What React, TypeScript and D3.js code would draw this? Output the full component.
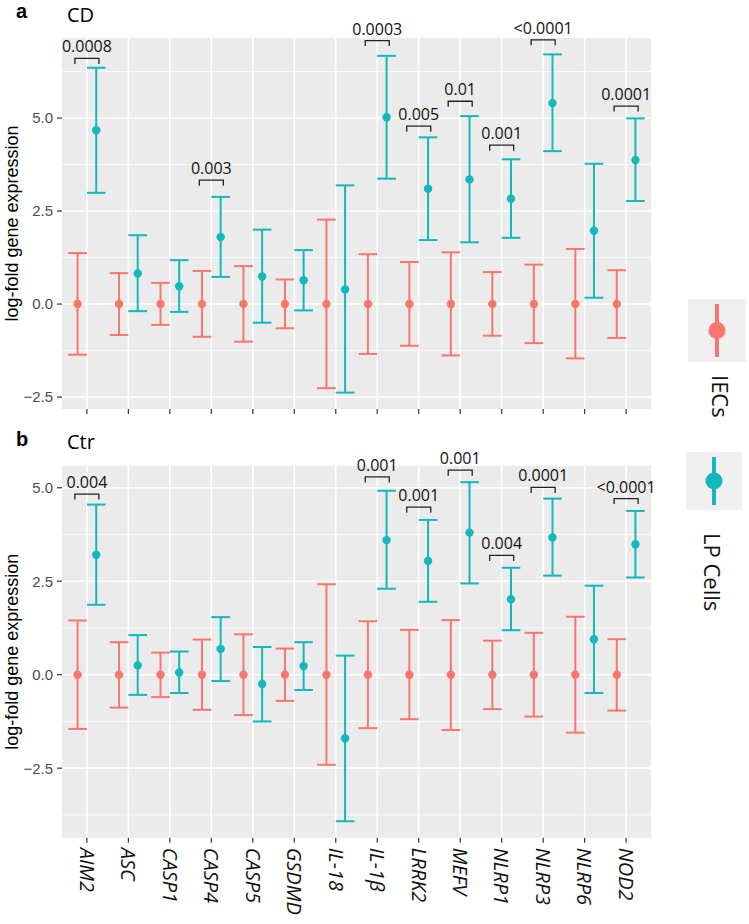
import { useEffect, useRef } from "react";
import * as d3 from "d3";

const GENES = [
  "AIM2", "ASC", "CASP1", "CASP4", "CASP5", "GSDMD", "IL-18",
  "IL-1β", "LRRK2", "MEFV", "NLRP1", "NLRP3", "NLRP6", "NOD2",
];

// panel a: CD
const CD_IEC_MEAN = [0, 0, 0, 0, 0, 0, 0, 0, 0, 0, 0, 0, 0, 0];
const CD_IEC_LO = [-1.36, -0.83, -0.56, -0.88, -1.01, -0.65, -2.26, -1.34, -1.12, -1.38, -0.85, -1.05, -1.46, -0.91];
const CD_IEC_HI = [1.37, 0.83, 0.57, 0.89, 1.02, 0.66, 2.27, 1.34, 1.13, 1.39, 0.86, 1.06, 1.48, 0.91];
const CD_LP_MEAN = [4.67, 0.82, 0.48, 1.8, 0.74, 0.64, 0.39, 5.02, 3.1, 3.35, 2.83, 5.4, 1.97, 3.87];
const CD_LP_LO = [2.99, -0.19, -0.21, 0.73, -0.5, -0.17, -2.38, 3.37, 1.72, 1.66, 1.78, 4.11, 0.17, 2.77];
const CD_LP_HI = [6.35, 1.85, 1.18, 2.88, 2.0, 1.45, 3.19, 6.67, 4.48, 5.05, 3.89, 6.71, 3.77, 4.99];
const CD_P = ["0.0008", null, null, "0.003", null, null, null, "0.0003", "0.005", "0.01", "0.001", "<0.0001", null, "0.0001"];
const CD_P_Y = [6.6, null, null, 3.33, null, null, null, 7.08, 4.78, 5.45, 4.27, 7.1, null, 5.32];

// panel b: Ctr
const CTR_IEC_MEAN = [0, 0, 0, 0, 0, 0, 0, 0, 0, 0, 0, 0, 0, 0];
const CTR_IEC_LO = [-1.45, -0.88, -0.6, -0.94, -1.08, -0.7, -2.41, -1.43, -1.19, -1.48, -0.92, -1.12, -1.55, -0.96];
const CTR_IEC_HI = [1.45, 0.87, 0.59, 0.94, 1.08, 0.7, 2.42, 1.43, 1.2, 1.46, 0.91, 1.12, 1.55, 0.95];
const CTR_LP_MEAN = [3.21, 0.25, 0.06, 0.69, -0.25, 0.23, -1.7, 3.6, 3.04, 3.8, 2.02, 3.67, 0.95, 3.49];
const CTR_LP_LO = [1.87, -0.54, -0.49, -0.17, -1.25, -0.41, -3.92, 2.3, 1.95, 2.44, 1.19, 2.65, -0.49, 2.6];
const CTR_LP_HI = [4.55, 1.06, 0.62, 1.54, 0.74, 0.87, 0.51, 4.92, 4.14, 5.15, 2.86, 4.71, 2.38, 4.38];
const CTR_P = ["0.004", null, null, null, null, null, null, "0.001", "0.001", "0.001", "0.004", "0.0001", null, "<0.0001"];
const CTR_P_Y = [4.83, null, null, null, null, null, null, 5.29, 4.48, 5.47, 3.19, 5.01, null, 4.71];

const Y_MAJOR = [-2.5, 0, 2.5, 5];
const Y_MINOR = [-3.75, -1.25, 1.25, 3.75, 6.25];

const GROUPS = ["IECs", "LP Cells"];
const COLORS = ["#F8766D", "#12B8BC"];

const SANS = "'Open Sans', 'DejaVu Sans', sans-serif";
const ARIAL = "'Liberation Sans', Arial, sans-serif";

export default function App() {
  const svgRef = useRef<SVGSVGElement>(null);

  useEffect(() => {
    if (!svgRef.current) return;
    const svg = d3.select(svgRef.current);
    svg.selectAll("*").remove();

    const left = 62;
    const right = 651;

    const x = d3.scalePoint<string>().domain(GENES).range([left, right]).padding(0.6);
    const step = x.step();
    const dodge = step * 0.225;
    const capHalf = step * 0.225;

    const panels = [
      {
        tag: "a", title: "CD", top: 38, bottom: 409, domain: [-2.82, 7.15],
        series: [
          { mean: CD_IEC_MEAN, lo: CD_IEC_LO, hi: CD_IEC_HI },
          { mean: CD_LP_MEAN, lo: CD_LP_LO, hi: CD_LP_HI },
        ],
        p: CD_P, pY: CD_P_Y, labels: false,
      },
      {
        tag: "b", title: "Ctr", top: 465.7, bottom: 837.7, domain: [-4.36, 5.59],
        series: [
          { mean: CTR_IEC_MEAN, lo: CTR_IEC_LO, hi: CTR_IEC_HI },
          { mean: CTR_LP_MEAN, lo: CTR_LP_LO, hi: CTR_LP_HI },
        ],
        p: CTR_P, pY: CTR_P_Y, labels: true,
      },
    ];

    panels.forEach((pn) => {
      const y = d3.scaleLinear().domain(pn.domain).range([pn.bottom, pn.top]);
      const g = svg.append("g");

      // panel background + grid
      g.append("rect")
        .attr("x", left).attr("y", pn.top)
        .attr("width", right - left).attr("height", pn.bottom - pn.top)
        .attr("fill", "#EBEBEB");

      g.selectAll(".minor")
        .data(Y_MINOR.filter((v) => v > pn.domain[0] && v < pn.domain[1]))
        .enter().append("line")
        .attr("x1", left).attr("x2", right)
        .attr("y1", (d) => y(d)).attr("y2", (d) => y(d))
        .attr("stroke", "#fff").attr("stroke-width", 0.8);

      g.selectAll(".major")
        .data(Y_MAJOR)
        .enter().append("line")
        .attr("x1", left).attr("x2", right)
        .attr("y1", (d) => y(d)).attr("y2", (d) => y(d))
        .attr("stroke", "#fff").attr("stroke-width", 1.6);

      g.selectAll(".vgrid")
        .data(GENES)
        .enter().append("line")
        .attr("x1", (d) => x(d)!).attr("x2", (d) => x(d)!)
        .attr("y1", pn.top).attr("y2", pn.bottom)
        .attr("stroke", "#fff").attr("stroke-width", 1.6);

      // y axis
      const ya = g.append("g");
      Y_MAJOR.forEach((v) => {
        ya.append("line")
          .attr("x1", left - 5).attr("x2", left)
          .attr("y1", y(v)).attr("y2", y(v))
          .attr("stroke", "#333").attr("stroke-width", 1.2);
        ya.append("text")
          .attr("x", left - 9).attr("y", y(v)).attr("dy", "0.36em")
          .attr("text-anchor", "end")
          .attr("font-family", ARIAL).attr("font-size", "15px")
          .attr("fill", "#4D4D4D")
          .text(d3.format(".1f")(v));
      });

      // x ticks
      GENES.forEach((gene) => {
        g.append("line")
          .attr("x1", x(gene)!).attr("x2", x(gene)!)
          .attr("y1", pn.bottom).attr("y2", pn.bottom + 5)
          .attr("stroke", "#333").attr("stroke-width", 1.2);
        if (pn.labels) {
          g.append("text")
            .attr("transform", `translate(${x(gene)},${pn.bottom + 10}) rotate(90)`)
            .attr("dy", "0.36em")
            .attr("font-family", SANS).attr("font-style", "italic")
            .attr("font-size", "20px").attr("fill", "#111")
            .text(gene);
        }
      });

      // y title
      const mid = (pn.top + pn.bottom) / 2;
      g.append("text")
        .attr("transform", `translate(18,${mid}) rotate(-90)`)
        .attr("text-anchor", "middle")
        .attr("font-family", ARIAL).attr("font-size", "18px").attr("fill", "#000")
        .text("log-fold gene expression");

      // panel tag and title
      g.append("text")
        .attr("x", 16).attr("y", pn.top - 20)
        .attr("font-family", ARIAL).attr("font-weight", "bold")
        .attr("font-size", "20px").attr("fill", "#000")
        .text(pn.tag);
      g.append("text")
        .attr("x", 67).attr("y", pn.top - 16.5)
        .attr("font-family", SANS).attr("font-size", "20px").attr("fill", "#000")
        .text(pn.title);

      // error bars + points
      pn.series.forEach((s, si) => {
        const off = si === 0 ? -dodge : dodge;
        const color = COLORS[si];
        GENES.forEach((gene, i) => {
          const cx = x(gene)! + off;
          g.append("line")
            .attr("x1", cx).attr("x2", cx)
            .attr("y1", y(s.lo[i])).attr("y2", y(s.hi[i]))
            .attr("stroke", color).attr("stroke-width", 2);
          [s.lo[i], s.hi[i]].forEach((v) => {
            g.append("line")
              .attr("x1", cx - capHalf).attr("x2", cx + capHalf)
              .attr("y1", y(v)).attr("y2", y(v))
              .attr("stroke", color).attr("stroke-width", 2);
          });
          g.append("circle")
            .attr("cx", cx).attr("cy", y(s.mean[i])).attr("r", 4.2)
            .attr("fill", color);
        });
      });

      // significance brackets
      GENES.forEach((gene, i) => {
        const label = pn.p[i];
        const py = pn.pY[i];
        if (label == null || py == null) return;
        const cx = x(gene)!;
        const by = y(py);
        g.append("path")
          .attr("d", `M${cx - 12},${by + 5.5}V${by}H${cx + 12}V${by + 5.5}`)
          .attr("fill", "none").attr("stroke", "#222").attr("stroke-width", 1.3);
        g.append("text")
          .attr("x", cx).attr("y", by - 6)
          .attr("text-anchor", "middle")
          .attr("font-family", SANS).attr("font-size", "16px").attr("fill", "#111")
          .text(label);
      });
    });

    // legend
    const keys = [
      { box: [688, 299, 58, 63], labelX: 712, labelY: 375 },
      { box: [686, 452, 56, 58], labelX: 704, labelY: 533 },
    ];
    GROUPS.forEach((grp, i) => {
      const k = keys[i];
      const [bx, by, bw, bh] = k.box;
      const cx = bx + bw / 2;
      const lg = svg.append("g");
      lg.append("rect")
        .attr("x", bx).attr("y", by).attr("width", bw).attr("height", bh)
        .attr("fill", "#F0F0F0");
      lg.append("line")
        .attr("x1", cx).attr("x2", cx)
        .attr("y1", by + 5).attr("y2", by + bh - 5)
        .attr("stroke", COLORS[i]).attr("stroke-width", 4);
      lg.append("circle")
        .attr("cx", cx).attr("cy", by + bh / 2).attr("r", 8.5)
        .attr("fill", COLORS[i]);
      lg.append("text")
        .attr("transform", `translate(${k.labelX},${k.labelY}) rotate(90)`)
        .attr("font-family", SANS).attr("font-size", "22px").attr("fill", "#111")
        .text(grp);
    });
  }, []);

  return (
    <svg
      ref={svgRef}
      width={749}
      height={924}
      style={{ position: "absolute", left: 0, top: 0, background: "#fff" }}
      role="img"
      aria-label="Error bar chart of log-fold inflammasome gene expression in IECs and LP cells"
    />
  );
}
